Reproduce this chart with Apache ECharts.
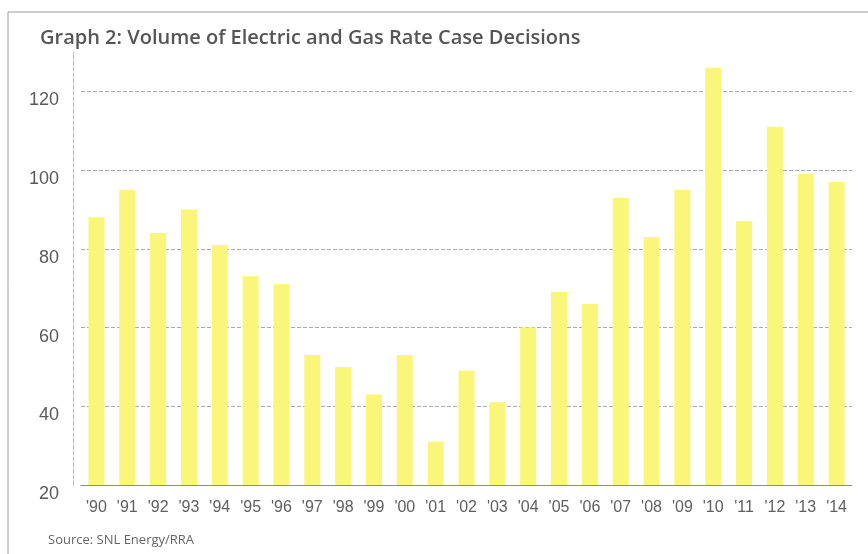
<!DOCTYPE html>
<html>
<head>
<meta charset="utf-8">
<script src="https://cdn.jsdelivr.net/npm/echarts@6/dist/echarts.min.js"></script>
<style>
  html, body { margin: 0; padding: 0; background: #ffffff; }
  #chart { width: 868px; height: 554px; }
</style>
</head>
<body>
<div id="chart"></div>
<script>
const categories = ["'90","'91","'92","'93","'94","'95","'96","'97","'98","'99","'00","'01","'02","'03","'04","'05","'06","'07","'08","'09","'10","'11","'12","'13","'14"];
const decisions = [88, 95, 84, 90, 81, 73, 71, 53, 50, 43, 53, 31, 49, 41, 60, 69, 66, 93, 83, 95, 126, 87, 111, 99, 97];
const titleText = 'Graph 2: Volume of Electric and Gas Rate Case Decisions';
const sourceText = 'Source: SNL Energy/RRA';

const chart = echarts.init(document.getElementById('chart'), null, { renderer: 'canvas' });
chart.setOption({
  backgroundColor: '#ffffff',
  animation: false,
  title: {
    text: titleText,
    left: 35,
    top: 23,
    textStyle: { fontFamily: 'Open Sans', fontSize: 20, fontWeight: 600, color: '#555555' }
  },
  graphic: [
    {
      type: 'rect',
      shape: { x: 8, y: 12, width: 900, height: 600 },
      style: { fill: 'none', stroke: '#9a9a9a', lineWidth: 1 },
      silent: true
    },
    {
      type: 'text',
      left: 48,
      top: 534,
      style: { text: sourceText, fontFamily: 'Open Sans', fontSize: 13, fill: '#666666' }
    }
  ],
  grid: { left: 81, right: 16, top: 52, bottom: 69 },
  xAxis: {
    type: 'category',
    data: categories,
    axisLine: { show: true, lineStyle: { color: '#8a8a9a', width: 1 } },
    axisTick: { show: false },
    axisLabel: { color: '#606060', fontFamily: 'Liberation Sans', fontSize: 16, margin: 15 }
  },
  yAxis: {
    type: 'value',
    min: 20,
    max: 130,
    interval: 20,
    offset: 8,
    axisLine: { show: true, lineStyle: { color: '#b5b5b5', width: 1, type: 'dashed' } },
    axisTick: { show: false },
    axisLabel: {
      color: '#5a5a5a', fontFamily: 'Liberation Sans', fontSize: 18, margin: 14,
      showMaxLabel: false, verticalAlign: 'top'
    },
    splitLine: {
      show: true,
      lineStyle: {
        color: ['#a8a8b0', '#a8a8b0', '#a8a8b0', '#a8a8b0', '#a8a8b0', '#a8a8b0', 'rgba(0,0,0,0)'],
        type: 'dashed', width: 1
      }
    }
  },
  series: [{
    type: 'bar',
    data: decisions,
    barWidth: 16,
    itemStyle: { color: '#f9f67a' }
  }]
});
</script>
</body>
</html>
